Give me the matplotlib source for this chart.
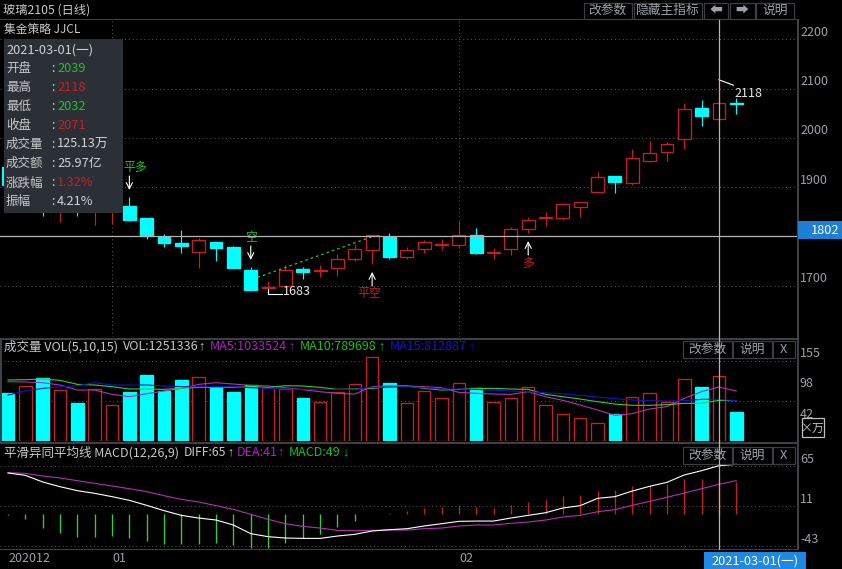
import matplotlib
matplotlib.use('Agg')
import matplotlib.pyplot as plt
from matplotlib.patches import Rectangle

plt.rcParams['font.family'] = ['Noto Sans CJK SC', 'DejaVu Sans']

# candles
opens = [1941, 1900, 1925, 1880, 1910, 1870, 1880, 1862, 1837, 1800, 1787, 1769.5, 1788.6, 1779, 1732.4,
         1696, 1700, 1734.5, 1730, 1737, 1754, 1773.6, 1800, 1759, 1775.6, 1783, 1783.7, 1803, 1767,
         1775.6, 1815.5, 1837, 1838.5, 1860.7, 1891, 1922, 1909.4, 1954, 1972, 1997, 2060, 2039, 2070]
closes = [1905, 1935, 1880, 1900, 1875, 1895, 1895, 1834, 1801, 1787, 1781, 1793, 1777.6, 1737, 1692.5,
          1698, 1732, 1729, 1732, 1754, 1775.6, 1803.4, 1759, 1772.4, 1789, 1785, 1803, 1767.5, 1768.5,
          1815, 1833, 1840, 1865.6, 1869.7, 1920, 1911.4, 1959, 1969, 1987, 2058, 2045, 2071, 2068]
highs = [1960, 1945, 1935, 1915, 1920, 1905, 1910, 1881, 1837, 1805, 1814, 1797, 1789, 1780.5, 1738,
         1711, 1742.6, 1739, 1742.6, 1765, 1785, 1804, 1807.4, 1778.4, 1794, 1795, 1831.8, 1817, 1778,
         1819.6, 1840, 1849, 1867.6, 1870, 1930.5, 1923, 1977.7, 1994, 1991, 2070, 2077, 2118, 2082]
lows = [1890, 1880, 1841, 1830, 1842, 1824, 1826, 1832, 1796, 1779, 1767.5, 1737, 1751, 1736, 1690.5,
        1683, 1698, 1714, 1719, 1721, 1751, 1745, 1754, 1754.7, 1767.5, 1773, 1777.6, 1765.5, 1754.7,
        1763, 1807.4, 1822, 1834, 1840, 1890.5, 1889, 1904.7, 1951, 1954, 1978, 2025, 2032, 2049]

# volume, x10000
volume = [92.8, 105.8, 121.9, 98.6, 73.5, 100.6, 69.6, 94.8, 127.7, 97.3, 118, 123.2, 104.4, 94.8, 108.3,
          101.9, 100, 83.2, 75.4, 94.2, 109.7, 161.9, 112.2, 73.5, 96.7, 82.6, 111.6, 101.9, 74.9, 82.6,
          104.4, 69.6, 51.6, 43.9, 34.2, 51.6, 85.1, 92.8, 76, 119.9, 104.4, 125.1, 56.1]
ma5 = [114.7, 114.1, 112.8, 108.3, 98.6, 98.6, 90.2, 85.7, 91.5, 96.7, 101.8, 109.6, 112.8, 110.2, 107.6,
       106.4, 103.1, 99.3, 95.4, 92.2, 90.9, 105.1, 107, 106.4, 105.1, 103.1, 94.1, 92.2, 90.9, 90.2,
       95.4, 85.7, 78.6, 69.6, 59.9, 49.6, 52.9, 61.9, 66.4, 82.5, 95.4, 104.4, 96.7]
ma10 = [118, 118.6, 119.9, 117.3, 109.6, 108.3, 105.1, 100.6, 100.6, 99.9, 101.8, 103.8, 103.8, 103.8, 105.1,
        103.8, 107, 106.4, 103.8, 99.9, 100.6, 101.8, 105.1, 106.4, 101.8, 98.6, 99.9, 101.8, 101.8, 100.6,
        99.9, 90.2, 85.7, 81.2, 76, 71.5, 69, 69, 70.3, 72.8, 72.8, 78.6, 78]
ma15 = [88.9, 96.7, 101.8, 105.1, 107, 112.8, 108.3, 108.3, 108.3, 106.4, 105.1, 105.1, 105.1, 105.1, 103.1,
        101.8, 100.6, 99.9, 99.9, 99.9, 99.9, 103.8, 104.4, 105.1, 103.1, 100.6, 100.6, 99.9, 98, 96.7,
        95.4, 93.5, 90.9, 88.3, 85.1, 81.9, 79.3, 78, 77.3, 78, 80.6, 80.6, 78]

# macd
diff = [56.2, 53, 44, 37.6, 32.2, 28.6, 24.1, 19.1, 12.3, 5.1, -1.3, -4.9, -7.6, -14.4, -26.1, -30.2, -32,
        -32.5, -32.5, -29.3, -27, -22.5, -20.7, -19.4, -15.7, -12.6, -9.4, -9, -9, -4.9, -1.3, 2.3, 8.7,
        11.9, 21.8, 24.1, 31.7, 38.1, 43.5, 53.5, 59.3, 66.1, 67.9]
dea = [56.6, 55.7, 52.1, 49.4, 45.8, 42.1, 38.5, 34.9, 30.8, 25.4, 20.4, 16.8, 11.9, 6.9, 0.1, -6.7, -12.6,
       -16.2, -18.5, -21.6, -22.1, -21.6, -21.2, -21.2, -19.4, -18.5, -15.7, -14.4, -14.4, -12.1, -10.3,
       -7.6, -3.5, -1.3, 3.7, 6.4, 12.3, 17.7, 23.2, 29, 34.9, 40.8, 45.8]
macd = [-0.5, -6.3, -18.5, -24.9, -30.3, -30.3, -29.4, -31.7, -36.6, -40.3, -40.7, -40.7, -39.4, -41.2, -45.2,
        -45.2, -38.4, -32.1, -26.7, -16.7, -9, 0.9, 1.8, 5, 8.6, 10.4, 12.7, 10, 8.6, 12.7, 16.7, 20.4, 24.9,
        26.2, 31.7, 33, 38, 39.3, 41.2, 47.9, 47.9, 49, 43.9]

price_ticks = [2200, 2100, 2000, 1900, 1700]
month_pos = [6, 26]
cross_idx = 41
cross_price = 1802

info_rows = [('开盘', '2039', 'g'), ('最高', '2118', 'r'), ('最低', '2032', 'g'), ('收盘', '2071', 'r'),
             ('成交量', '125.13万', 'w'), ('成交额', '25.97亿', 'w'), ('涨跌幅', '1.32%', 'r'), ('振幅', '4.21%', 'w')]

RED = '#c4201f'
CYAN = '#00ffff'
GREY = '#9ca1a8'
LINE = '#3d4045'
GREEN = '#22c422'
MAG = '#b52fb5'
DOTS = (0, (1, 3))
W, H = 842, 569
xs = list(range(len(opens)))
colors = [RED if c >= o else CYAN for o, c in zip(opens, closes)]

fig = plt.figure(figsize=(W / 100, H / 100), dpi=100, facecolor='black')


def panel(top, bottom, ylim):
    ax = fig.add_axes([0, 1 - bottom / H, 798 / W, (bottom - top) / H], facecolor='black')
    ax.set_xlim(-8 / 17.34, (798 - 8) / 17.34)
    ax.set_ylim(*ylim)
    ax.set_xticks([])
    ax.tick_params(left=False, labelleft=False)
    for s in ax.spines.values():
        s.set_visible(False)
    ax.set_axisbelow(True)
    ax.grid(axis='y', linestyle=DOTS, color='#5a5a5a', linewidth=0.7)
    return ax


# main candles
ax1 = panel(20, 337, (1596.6, 2239.2))
ax1.set_yticks(price_ticks)
for m in month_pos:
    ax1.axvline(m, color='#5a5a5a', linestyle=DOTS, linewidth=0.7, zorder=0)
ax1.vlines(xs, lows, highs, colors=colors, linewidth=0.85, zorder=2)
ax1.bar(xs, [c - o for o, c in zip(opens, closes)], bottom=opens, width=0.74,
        facecolor=['black' if c == RED else CYAN for c in colors], edgecolor=colors, linewidth=0.95, zorder=3)

# trend line from the short signal to the cover signal
ax1.plot([14.4, 21], [1717.6, 1800], color='#35c435', linestyle=(0, (2, 2.5)), linewidth=0.9, zorder=4)

# lowest / highest marks
ax1.plot([15, 15, 15.83], [1693, 1683, 1683], color='white', linewidth=0.8, zorder=5)
ax1.text(15.85, 1689, '1683', color='#e8e8e8', fontsize=9, va='center', zorder=6)
ax1.plot([41, 41.83], [2118, 2107], color='white', linewidth=0.8, zorder=5)
ax1.text(41.9, 2090, '2118', color='#e8e8e8', fontsize=9, va='center', zorder=6)


def signal(idx, tip, text, down, color, dx):
    sign = 1 if down else -1
    ax1.annotate('', xy=(idx, tip), xytext=(0, sign * 14), textcoords='offset pixels',
                 arrowprops=dict(arrowstyle='->', color='white', lw=0.8, mutation_scale=11, shrinkA=0, shrinkB=0), zorder=6)
    ax1.annotate(text, xy=(idx, tip), xytext=(dx, sign * 22), textcoords='offset pixels',
                 color=color, fontsize=8.6, ha='center', va='center', zorder=6)


signal(7, 1894.6, '平多', True, GREEN, 6)
signal(14, 1752.7, '空', True, GREEN, 0)
signal(21, 1728.4, '平空', False, RED, -3)
signal(30, 1791, '多', False, RED, 0)

# volume
ax2 = panel(340, 441, (0, 195.4))
ax2.set_yticks([155, 77.4])
ax2.bar(xs, volume, width=0.72, facecolor=['black' if c == RED else CYAN for c in colors],
        edgecolor=colors, linewidth=0.95, zorder=2)
ax2.plot(xs, ma5, color=MAG, linewidth=0.8, zorder=3)
ax2.plot(xs, ma10, color='#2fd02f', linewidth=0.8, zorder=3)
ax2.plot(xs, ma15, color='#1414c8', linewidth=0.8, zorder=3)

# macd
ax3 = panel(444, 549, (-46.9, 95.5))
ax3.set_yticks([65, 11, -43])
ax3.vlines(xs, [0] * len(xs), macd, colors=[RED if v > 0 else '#35d035' for v in macd], linewidth=0.95, zorder=2)
ax3.plot(xs, dea, color=MAG, linewidth=0.8, zorder=3)
ax3.plot(xs, diff, color='white', linewidth=0.8, zorder=4)

# crosshair
ax1.axhline(cross_price, color='#b4b4b4', linewidth=0.9, zorder=7)

# right axis labels sit a bit above their grid lines
for ax, ticks in ((ax1, price_ticks), (ax3, [65, 11, -43])):
    for t in ticks:
        ax.annotate(str(t), xy=(1, t), xycoords=ax.get_yaxis_transform(), xytext=(2, 7), textcoords='offset pixels',
                    color=GREY, fontsize=9, va='center', ha='left', annotation_clip=False)

# chrome drawn in figure pixels
ov = fig.add_axes([0, 0, 1, 1], facecolor='none', zorder=10)
ov.set_xlim(0, W)
ov.set_ylim(H, 0)
ov.axis('off')


def box(x0, y0, x1, y1, fc='none', ec='none', lw=1.0):
    ov.add_patch(Rectangle((x0, y0), x1 - x0, y1 - y0, facecolor=fc, edgecolor=ec, linewidth=lw))


def label(x, y, s, color='#c8c8c8', size=9.2, ha='left', **kw):
    ov.text(x, y, s, color=color, fontsize=size, ha=ha, va='center', **kw)


def arrow(x, y, s, color='#c8c8c8'):
    # narrow arrows after the readings
    label(x, y, s, color=color, size=9, ha='center', family='Liberation Sans')


def button(x0, x1, y0, y1, s, **kw):
    box(x0, y0, x1, y1, ec='#3a3d42', lw=0.9)
    label((x0 + x1) / 2, (y0 + y1) / 2, s, color=GREY, ha='center', **kw)


# frame lines
box(0, 18.6, 798, 19.8, fc=LINE)
box(0, 337.5, 798, 340, fc=LINE)
box(0, 441.8, 798, 444, fc=LINE)
box(0, 548.8, 798, 549.8, fc=LINE)
box(0, 338, 1.5, 444, fc=LINE)
box(797.2, 19, 798.6, 549.8, fc=LINE)

# titles
label(3, 10, '玻璃2105 (日线)', size=8.8)
label(4, 29, '集金策略 JJCL', size=8.5)

button(583.5, 632, 2.5, 18.5, '改参数')
button(633.5, 702, 2.5, 18.5, '隐藏主指标')
button(703.5, 728, 2.5, 18.5, '⬅')
button(729.5, 754.5, 2.5, 18.5, '➡')
button(755.5, 794, 2.5, 18.5, '说明')
for y0 in (341, 447):
    button(682.5, 731.5, y0, y0 + 17, '改参数')
    button(733, 771.5, y0, y0 + 17, '说明')
    button(773, 794.5, y0, y0 + 17, 'X')

# info panel
box(4, 39, 123, 213, fc='#2b2f36')
label(6, 50, '2021-03-01(一)', color='#d2d2d2', size=9.2)
col = {'g': '#22c422', 'r': '#c8202a', 'w': '#d2d2d2'}
for i, (name, value, c) in enumerate(info_rows):
    y = 68.7 + i * 19
    label(6, y, name, color='#c8c8c8', size=9)
    label(51, y, ':', color='#d2d2d2', size=9)
    label(57, y, value, color=col[c], size=9.2)

# panel titles
label(4, 346.7, '成交量 VOL(5,10,15)', size=9)
label(122.7, 346.7, 'VOL:1251336', size=9)
arrow(201, 346.7, '↑')
label(209.3, 346.7, 'MA5:1033524', color='#b020c0', size=9)
arrow(291, 346.7, '↑', '#b020c0')
label(300, 346.7, 'MA10:789698', color='#18c018', size=9)
arrow(381.7, 346.7, '↑', '#18c018')
label(389.3, 346.7, 'MA15:812887', color='#1414d0', size=9)
arrow(471.7, 346.7, '↑', '#1414d0')
label(4, 452.7, '平滑异同平均线 MACD(12,26,9)', size=9)
label(184, 452.7, 'DIFF:65', size=8.8)
arrow(230, 452.7, '↑')
label(236.7, 452.7, 'DEA:41', color='#b020c0', size=9)
arrow(280, 452.7, '↑', '#b020c0')
label(288.7, 452.7, 'MACD:49', color='#18c018', size=9)
arrow(345, 452.7, '↓', '#18c018')

# volume scale
label(799.5, 353, '155', color=GREY, size=9)
label(799.5, 383, '98', color=GREY, size=9)
label(799.5, 414, '42', color=GREY, size=9)
box(801.7, 418.3, 824.3, 437.3, fc='black', ec='#c0c0c0', lw=0.9)
label(813, 428, '×万', color='#c0c0c0', size=8.6, ha='center')

# date axis
label(8, 558.5, '202012', color=GREY, size=9)
label(112, 558.5, '01', color=GREY, size=9)
label(459, 558.5, '02', color=GREY, size=9)

# crosshair vertical and its tags
cross_x = 8 + cross_idx * 17.34
ov.plot([cross_x, cross_x], [20, 549], color='#b4b4b4', linewidth=0.9)
box(798, 221, 842, 239, fc='#1e7fd6')
label(839, 230, str(cross_price), color='white', size=9.2, ha='right')
box(704, 552.3, 805.7, 569, fc='#1e88e5')
label(755, 561, '2021-03-01(一)', color='white', size=9.2, ha='center')

fig.savefig('out.png', dpi=100, facecolor='black')
